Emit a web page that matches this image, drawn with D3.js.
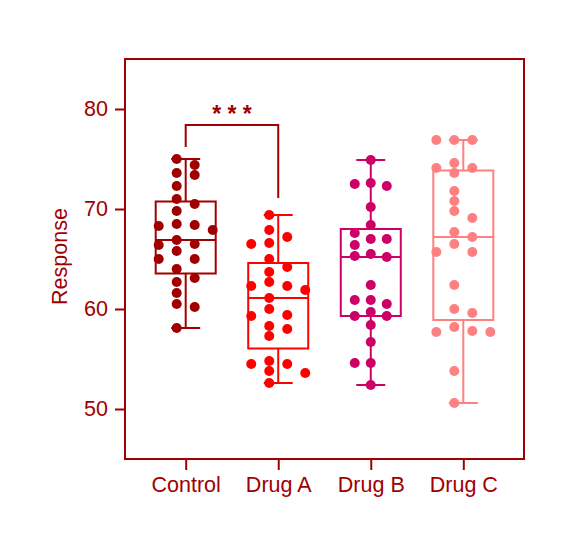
<!DOCTYPE html>
<html>
<head>
<meta charset="utf-8">
<script src="https://cdn.jsdelivr.net/npm/d3@7"></script>
<style>
  body { margin: 0; background: #fff; }
  text { font-family: "Liberation Sans", Arial, sans-serif; }
</style>
</head>
<body>
<div id="chart"></div>
<script>
// Data
const groups = ["Control", "Drug A", "Drug B", "Drug C"];

const controlValues = [75.0, 74.4, 73.6, 73.4, 72.3, 71.0, 70.5, 69.8, 68.5, 68.4, 68.3, 67.9, 66.9,
    66.5, 66.4, 65.8, 65.0, 65.0, 64.0, 63.1, 62.7, 61.6, 60.5, 60.2, 58.1];
const drugAValues = [69.4, 67.9, 67.2, 66.6, 66.5, 65.0, 64.2, 63.7, 62.7, 62.3, 62.3, 61.9, 61.1,
    60.0, 59.4, 59.3, 58.3, 58.0, 57.3, 54.8, 54.5, 54.5, 53.8, 53.6, 52.6];
const drugBValues = [74.9, 72.6, 72.5, 72.3, 70.2, 68.4, 67.6, 67.0, 67.0, 66.4, 65.5, 65.3, 65.2,
    62.4, 60.9, 60.9, 60.5, 59.7, 59.3, 59.3, 58.4, 56.7, 54.6, 54.6, 52.4];
const drugCValues = [76.9, 76.9, 76.9, 74.6, 74.1, 74.1, 73.6, 71.8, 70.8, 69.8, 69.1, 67.7, 67.2,
    66.5, 65.7, 65.7, 62.4, 60.0, 59.6, 58.2, 57.8, 57.7, 57.7, 53.8, 50.6];

const yTicks = [50, 60, 70, 80];
const yDomain = [45, 85];

// significance bracket between Control and Drug A
const sigPair = ["Control", "Drug A"];
const sigLevel = 78.4;
const sigLegEnds = [76.2, 71.1];
const sigLabel = "* * *";

const groupValues = [controlValues, drugAValues, drugBValues, drugCValues];

// Dimensions
const svgWidth = 577, svgHeight = 550;
const margin = { top: 59, right: 53, bottom: 91, left: 125 };
const width = svgWidth - margin.left - margin.right;
const height = svgHeight - margin.top - margin.bottom;
const axisColor = "#a00000";
const dotR = 5;
const fontSize = "21.5px";

const svg = d3.select("#chart")
    .append("svg")
    .attr("width", svgWidth)
    .attr("height", svgHeight)
    .append("g")
    .attr("transform", `translate(${margin.left},${margin.top})`);

// Scales
const xScale = d3.scalePoint()
    .domain(groups)
    .range([0, width])
    .padding(0.656);

const yScale = d3.scaleLinear()
    .domain(yDomain)
    .range([height, 0]);

const color = d3.scaleOrdinal()
    .domain(groups)
    .range(["#a00000", "#ff0000", "#cc0066", "#ff8080"]);

// Quartiles the (n+1)p way
function quantile(sorted, p) {
    let h = (sorted.length + 1) * p - 1;
    h = Math.max(0, Math.min(sorted.length - 1, h));
    const lo = Math.floor(h), hi = Math.ceil(h);
    return sorted[lo] + (h - lo) * (sorted[hi] - sorted[lo]);
}

// Lay the dots out in lanes so they don't overlap
function swarm(values) {
    const minGap = 9.4;
    const sorted = values.slice().sort(d3.ascending);
    // biggest cluster decides if the lanes are centred or straddle the middle
    let maxRow = 1, start = 0;
    for (let i = 0; i < sorted.length; i++) {
        while (yScale(sorted[start]) - yScale(sorted[i]) >= minGap) start++;
        maxRow = Math.max(maxRow, i - start + 1);
    }
    const odd = maxRow % 2 === 1;
    const spacing = odd ? 16 : 18;
    const lanes = odd ? [0, -1, 1, -2, 2, -3, 3] : [-0.5, 0.5, -1.5, 1.5, -2.5, 2.5];
    const placed = [];
    return values.slice().sort(d3.descending).map(v => {
        const py = yScale(v);
        const lane = lanes.find(l => !placed.some(p => p.lane === l && Math.abs(p.py - py) < minGap));
        placed.push({ lane: lane, py: py });
        return { value: v, dx: lane * spacing };
    });
}

// Boxes, whiskers, dots
const capHalf = 14.5, boxHalf = 30;

groups.forEach((g, i) => {
    const values = groupValues[i].slice().sort(d3.ascending);
    const stats = {
        q1: quantile(values, 0.25),
        median: quantile(values, 0.5),
        q3: quantile(values, 0.75),
        min: d3.min(values),
        max: d3.max(values)
    };
    const x = xScale(g);
    const c = color(g);
    const grp = svg.append("g").attr("stroke", c).attr("stroke-width", 2);

    // whiskers
    grp.append("line")
        .attr("x1", x).attr("x2", x)
        .attr("y1", yScale(stats.max)).attr("y2", yScale(stats.q3));
    grp.append("line")
        .attr("x1", x).attr("x2", x)
        .attr("y1", yScale(stats.q1)).attr("y2", yScale(stats.min));
    // caps
    [stats.min, stats.max].forEach(v => {
        grp.append("line")
            .attr("x1", x - capHalf).attr("x2", x + capHalf)
            .attr("y1", yScale(v)).attr("y2", yScale(v));
    });
    // box
    grp.append("rect")
        .attr("x", x - boxHalf)
        .attr("y", yScale(stats.q3))
        .attr("width", boxHalf * 2)
        .attr("height", yScale(stats.q1) - yScale(stats.q3))
        .attr("fill", "none");
    // median
    grp.append("line")
        .attr("x1", x - boxHalf).attr("x2", x + boxHalf)
        .attr("y1", yScale(stats.median)).attr("y2", yScale(stats.median));

    // dots
    svg.append("g")
        .selectAll("circle")
        .data(swarm(groupValues[i]))
        .join("circle")
        .attr("cx", d => x + d.dx)
        .attr("cy", d => yScale(d.value))
        .attr("r", dotR)
        .attr("fill", c);
});

// Significance bracket
const bx0 = xScale(sigPair[0]), bx1 = xScale(sigPair[1]);
svg.append("path")
    .attr("d", `M${bx0},${yScale(sigLegEnds[0])}V${yScale(sigLevel)}H${bx1}V${yScale(sigLegEnds[1])}`)
    .attr("fill", "none")
    .attr("stroke", axisColor)
    .attr("stroke-width", 2);

svg.append("text")
    .attr("x", (bx0 + bx1) / 2)
    .attr("y", yScale(sigLevel) - 3)
    .style("text-anchor", "middle")
    .style("font-size", "23px")
    .style("font-weight", "bold")
    .attr("fill", axisColor)
    .text(sigLabel);

// Frame
svg.append("rect")
    .attr("width", width)
    .attr("height", height)
    .attr("fill", "none")
    .attr("stroke", axisColor)
    .attr("stroke-width", 2);

// Axes
const yAxis = svg.append("g")
    .call(d3.axisLeft(yScale).tickValues(yTicks).tickSize(10).tickSizeOuter(0).tickPadding(7));
const xAxis = svg.append("g")
    .attr("transform", `translate(0,${height})`)
    .call(d3.axisBottom(xScale).tickSize(11).tickSizeOuter(0).tickPadding(7));

[yAxis, xAxis].forEach(ax => {
    ax.select(".domain").remove();
    ax.selectAll("line").attr("stroke", axisColor).attr("stroke-width", 2);
    ax.selectAll("text")
        .attr("fill", axisColor)
        .style("font-size", fontSize)
        .style("font-family", "'Liberation Sans', Arial, sans-serif");
});

// Y-axis label
svg.append("text")
    .attr("transform", "rotate(-90)")
    .attr("x", -(yScale(65.25)))
    .attr("y", 67 - margin.left)
    .style("text-anchor", "middle")
    .style("font-size", fontSize)
    .attr("fill", axisColor)
    .text("Response");
</script>
</body>
</html>
